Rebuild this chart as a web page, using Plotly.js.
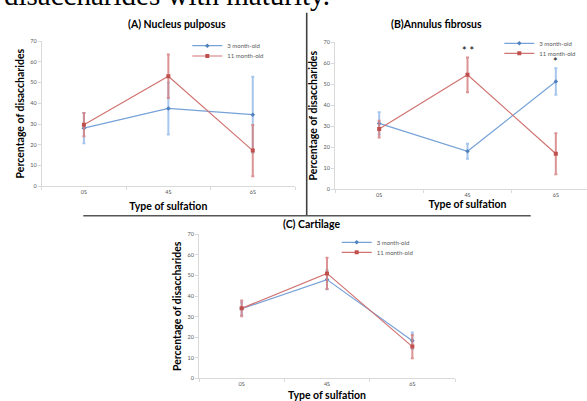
<!DOCTYPE html>
<html>
<head>
<meta charset="utf-8">
<script src="https://cdn.plot.ly/plotly-3.0.1.min.js"></script>
<style>
  html, body { margin: 0; padding: 0; width: 587px; height: 401px; overflow: hidden; background: #fff; }
  #chart { position: absolute; left: 0; top: -20px; }
</style>
</head>
<body>
<div id="chart"></div>
<script>
// ---------------- data ----------------
const categories = ['0S', '4S', '6S'];
const seriesNames = ['3 month-old', '11 month-old'];

const nucleus3mo      = [28.0, 37.5, 34.5];
const nucleus3moErr   = [7.3, 12.5, 18.3];
const nucleus11mo     = [29.7, 53.0, 17.2];
const nucleus11moErr  = [5.6, 10.5, 12.3];

const annulus3mo      = [31.3, 18.0, 51.3];
const annulus3moErr   = [5.3, 3.6, 6.3];
const annulus11mo     = [28.6, 54.5, 16.8];
const annulus11moErr  = [4.0, 8.3, 9.8];

const cartilage3mo     = [33.8, 48.0, 18.3];
const cartilage3moErr  = [3.0, 4.7, 4.0];
const cartilage11mo    = [34.0, 51.0, 15.4];
const cartilage11moErr = [3.8, 7.6, 5.7];

const panelTitles = ['(A) Nucleus pulposus', '(B)Annulus fibrosus', '(C) Cartilage'];
const xTitle = 'Type of sulfation';
const yTitle = 'Percentage of disaccharides';
const headerText = 'disaccharides with maturity.';
const sigAnnulus = ['* *', '*'];

// ---------------- geometry helpers ----------------
const W = 610, T = 20, H = 401 + T;
const px = x => x / W;
const py = y => 1 - (y + T) / H;

const blueLine = '#76a2d8', redLine = '#d07472';
const blueErr = 'rgba(150,188,234,0.85)', redErr = 'rgba(214,128,128,0.85)';
const blueMk = '#4f81bd', redMk = '#c0504d';

function mkTrace(y, err, idx, xa, ya, legendId) {
  const blue = idx === 0;
  return {
    type: 'scatter', mode: 'lines+markers',
    x: categories, y: y, name: seriesNames[idx],
    xaxis: xa, yaxis: ya, legend: legendId,
    line: { color: blue ? blueLine : redLine, width: 1.2 },
    marker: blue ? { symbol: 'diamond', size: 3.5, color: blueMk }
                 : { symbol: 'square', size: 4, color: redMk },
    error_y: { type: 'data', array: err, visible: true, color: blue ? blueErr : redErr,
               thickness: 2, width: 1.5 },
    hoverinfo: 'skip'
  };
}

const data = [
  mkTrace(nucleus3mo, nucleus3moErr, 0, 'x', 'y', 'legend'),
  mkTrace(nucleus11mo, nucleus11moErr, 1, 'x', 'y', 'legend2'),
  mkTrace(annulus3mo, annulus3moErr, 0, 'x2', 'y2', 'legend3'),
  mkTrace(annulus11mo, annulus11moErr, 1, 'x2', 'y2', 'legend4'),
  mkTrace(cartilage3mo, cartilage3moErr, 0, 'x3', 'y3', 'legend5'),
  mkTrace(cartilage11mo, cartilage11moErr, 1, 'x3', 'y3', 'legend6'),
];

const axisFont = { family: 'Lato, "Open Sans", sans-serif', size: 5.5, color: '#595959' };
const titleFont = { family: 'Lato, "Open Sans", sans-serif', size: 10.5, color: '#000', weight: 'bold' };

function xAxis(x0, x1, anchor, standoff) {
  return {
    domain: [px(x0), px(x1)], anchor: anchor, type: 'category',
    range: [-0.5, 2.5], tickson: 'boundaries', ticks: 'outside', ticklen: 3,
    tickcolor: '#d9d9d9', showline: true, linecolor: '#d9d9d9', linewidth: 1,
    showgrid: false, zeroline: false, tickfont: axisFont,
    title: { text: '<b>' + xTitle + '</b>', font: titleFont, standoff: standoff },
    fixedrange: true
  };
}
function yAxis(y0, y1, anchor) {
  return {
    domain: [py(y1), py(y0)], anchor: anchor,
    range: [0, 70], dtick: 10, ticks: 'outside', ticklen: 3,
    tickcolor: '#d9d9d9', showline: true, linecolor: '#d9d9d9', linewidth: 1,
    showgrid: false, zeroline: false, tickfont: axisFont,
    title: { text: '<b>' + yTitle + '</b>', font: titleFont, standoff: 3 },
    fixedrange: true
  };
}

function legendAt(x, y) {
  return {
    x: px(x - 40), y: py(y), xanchor: 'left', yanchor: 'middle',
    bgcolor: 'rgba(0,0,0,0)', borderwidth: 0,
    font: { family: 'Lato, "Open Sans", sans-serif', size: 6, color: '#595959' },
    itemwidth: 30, tracegroupgap: 0
  };
}

const layout = {
  width: W, height: H,
  margin: { l: 0, r: 0, t: 0, b: 0 },
  paper_bgcolor: '#fff', plot_bgcolor: 'rgba(0,0,0,0)',
  showlegend: true,
  xaxis: xAxis(41.7, 295, 'y', 8),
  yaxis: yAxis(41, 186.3, 'x'),
  xaxis2: xAxis(335, 600, 'y2', 4),
  yaxis2: yAxis(42.3, 189, 'x2'),
  xaxis3: xAxis(199, 455, 'y3', 9),
  yaxis3: yAxis(234.3, 378.3, 'x3'),
  legend: legendAt(227.3, 45.7),
  legend2: legendAt(227.3, 56),
  legend3: legendAt(539.3, 43.3),
  legend4: legendAt(539.3, 53.3),
  legend5: legendAt(376.7, 242.3),
  legend6: legendAt(376.7, 252.3),
  annotations: [
    { text: headerText, xref: 'paper', yref: 'paper', x: px(2), y: py(-5), xanchor: 'left', yanchor: 'middle',
      showarrow: false, font: { family: '"Liberation Serif", "Times New Roman", serif', size: 29, color: '#000' } },
    { text: '<b>' + panelTitles[0] + '</b>', xref: 'paper', yref: 'paper', x: px(176.5), y: py(23.5),
      xanchor: 'center', yanchor: 'middle', showarrow: false, font: titleFont },
    { text: '<b>' + panelTitles[1] + '</b>', xref: 'paper', yref: 'paper', x: px(436), y: py(23.5),
      xanchor: 'center', yanchor: 'middle', showarrow: false, font: titleFont },
    { text: '<b>' + panelTitles[2] + '</b>', xref: 'paper', yref: 'paper', x: px(311), y: py(224),
      xanchor: 'center', yanchor: 'middle', showarrow: false, font: titleFont },
    { text: sigAnnulus[0], xref: 'x2', yref: 'y2', x: categories[1], y: 66.3, xanchor: 'center', yanchor: 'middle',
      showarrow: false, font: { family: 'Lato, sans-serif', size: 11, color: '#000' } },
    { text: sigAnnulus[1], xref: 'x2', yref: 'y2', x: categories[2], y: 60.7, xanchor: 'center', yanchor: 'middle',
      showarrow: false, font: { family: 'Lato, sans-serif', size: 11, color: '#000' } }
  ],
  shapes: [
    { type: 'line', xref: 'paper', yref: 'paper', x0: px(306.7), x1: px(306.7), y0: py(12.7), y1: py(215.7),
      line: { color: '#404040', width: 1.6 } },
    { type: 'line', xref: 'paper', yref: 'paper', x0: px(83.3), x1: px(530.7), y0: py(215.7), y1: py(215.7),
      line: { color: '#555555', width: 1.6 } }
  ]
};

Plotly.newPlot('chart', data, layout, { staticPlot: true, displayModeBar: false });
</script>
</body>
</html>
